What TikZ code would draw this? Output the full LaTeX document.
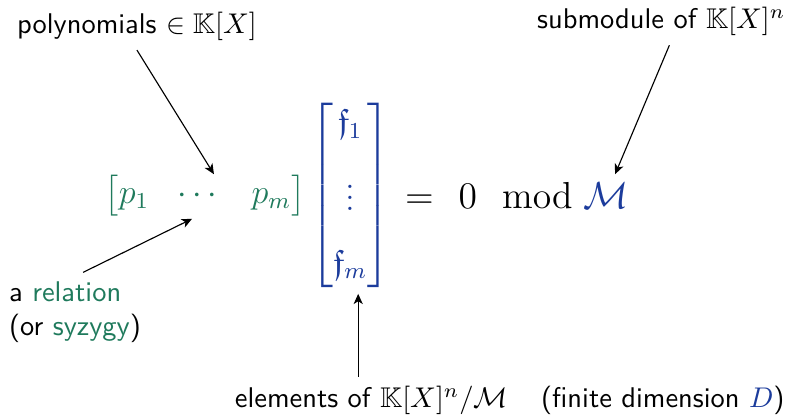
\documentclass[tikz,border=0pt]{standalone}
\usepackage{amsmath,amssymb}
\usepackage{tikz}
\usetikzlibrary{arrows.meta,positioning,calc}
\definecolor{relgreen}{HTML}{1F7A5C}
\definecolor{modblue}{HTML}{1C3C9C}
\tikzset{note/.style={font=\sffamily,align=left,inner sep=3pt}, pointer/.style={-{Stealth[length=3.6pt,width=3.2pt,inset=1pt]},thin,draw=black}, eqpart/.style={font=\large,inner sep=0pt}}

\begin{document}
\begin{tikzpicture}
\useasboundingbox (0,0) rectangle (9.81,-5.17);
\node[eqpart,text=relgreen] (row) at (2.53,-2.41) {$\begin{bmatrix}p_1 & \cdots & p_m\end{bmatrix}$};
\node[eqpart,text=modblue] (col) at (4.32,-2.41) {$\begin{bmatrix}\mathfrak{f}_1\\[8pt] \vdots\\[8pt] \mathfrak{f}_m\end{bmatrix}$};
\node[eqpart,anchor=west,scale=1.1,transform shape] (eq) at (4.99,-2.41) {$=\;\mkern2mu 0\;\;\mkern2mu\mathrm{mod}\;\textcolor{modblue}{\mathcal{M}}$};
\node[note] (poly) at (1.69,-0.33) {polynomials $\in\mathbb{K}[X]$};
\node[note] (sub) at (8.16,-0.27) {submodule of $\mathbb{K}[X]^n$};
\node[note,anchor=west] (rel) at (0,-3.85) {a \textcolor{relgreen}{relation}\\(or \textcolor{relgreen}{syzygy})};
\node[note] (elem) at (6.29,-4.94) {elements of $\mathbb{K}[X]^n/\mathcal{M}$\quad\,(finite dimension \textcolor{modblue}{$D$})};
\draw[pointer] (poly.south) -- ([xshift=0.11cm]row.north);
\draw[pointer] ([xshift=1mm]sub.south) -- ($(eq.west |- row.north)+(2.6,0)$);
\draw[pointer] ([xshift=0.1cm]rel.north) -- ([xshift=-0.16cm,yshift=-0.03cm]row.south);
\draw[pointer] ([xshift=0.1cm]col.south |- elem.north) -- ([xshift=0.1cm,yshift=-0.07cm]col.south);
\end{tikzpicture}
\end{document}
